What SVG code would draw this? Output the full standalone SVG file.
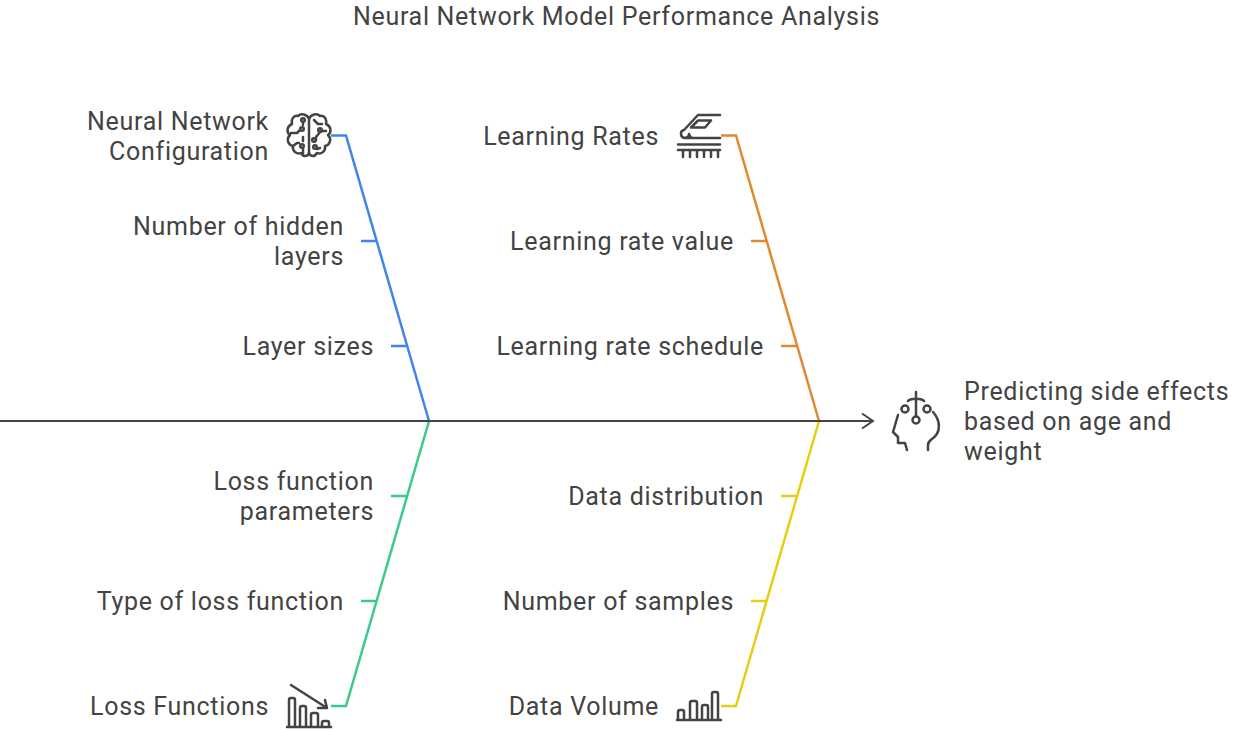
<svg xmlns="http://www.w3.org/2000/svg" width="1233" height="730" viewBox="0 0 1233 730">
<style>
text{font-family:Roboto,"Liberation Sans",sans-serif;font-size:25px;fill:#434343;letter-spacing:.7px}
.e{text-anchor:end}
.c{fill:none;stroke-width:2.500}
.m{fill:none;stroke-width:2}
.i{fill:none;stroke:#434343;stroke-width:2.500;stroke-linecap:round;stroke-linejoin:round}
</style>
<rect width="1233" height="730" fill="#fff"/>
<text id="title" x="616.5" y="25" text-anchor="middle">Neural Network Model Performance Analysis</text>
<g id="connectors">
<path class="c" stroke="#4285e8" d="M331 135.500H346L429 421M361 241H377M391 346H407"/>
<path class="c" stroke="#e08a30" d="M721 135.500H736L819 421M751 241H767M781 346H797"/>
<path class="c" stroke="#3cc98c" d="M331 706H346L429 421M391 496H407M361 601H377"/>
<path class="c" stroke="#e6cf10" d="M721 706H736L819 421M781 496H797M751 601H767"/>
<path class="m" stroke="#434343" d="M0 421H873M862 413.500L873 421L862 428.500"/>
</g>
<g id="node-nn"><text class="e" x="269" y="130">Neural Network</text><text class="e" x="269" y="160">Configuration</text>
<path class="i" d="M309 119C307 114 301 113 298 116C293 115 291 120 292 124C287 126 286 132 290 135C286 139 288 145 293 146C292 151 297 155 301 153C304 158 309 156 309 152ZM309 119C311 114 317 113 320 116C325 115 327 120 326 124C331 126 332 132 328 135C332 139 330 145 325 146C326 151 321 155 317 153C314 158 309 156 309 152ZM309 119V137M309 146V152M303 122V125M314 120L318 124H322M291 133H297L300 130M326 131H321L316 137M316 137V140M303 137V141M293 146L297 143H299M317 149L320 148M303 153V148"/>
<g class="i"><circle cx="303" cy="120" r="1.800"/><circle cx="302" cy="129" r="1.800"/><circle cx="320" cy="130" r="1.800"/><circle cx="314" cy="140" r="1.800"/><circle cx="302" cy="146" r="1.800"/><circle cx="315" cy="147" r="1.800"/></g></g>
<g id="node-lr"><text class="e" x="659" y="145">Learning Rates</text>
<path class="i" d="M720 115H698L684 130M698 120.500H711L705 127.500H691ZM689 134A4 4 0 1 1 684 130M689 134Q690 138 693 138H720M686 138H693M678 144.500H720M678 150H720M683 150V157M690 150V157M697 150V157M704 150V157M711 150V157M718 150V157"/></g>
<g id="node-hidden"><text class="e" x="344" y="235">Number of hidden</text><text class="e" x="344" y="265">layers</text></g>
<g id="node-sizes"><text class="e" x="374" y="355">Layer sizes</text></g>
<g id="node-lrv"><text class="e" x="734" y="250">Learning rate value</text></g>
<g id="node-lrs"><text class="e" x="764" y="355">Learning rate schedule</text></g>
<g id="node-outcome"><text x="964" y="400">Predicting side effects</text><text x="964" y="430">based on age and</text><text x="964" y="460">weight</text>
<path class="i" d="M916 392V416M908 401C910 398 913 399 916 399C919 399 922 398 924 401M898 415L893 432L898 437V443H905L907 450M933 412C941 421 941 433 932 439C929 441 928 442 928 445V450"/>
<g class="i"><circle cx="916" cy="420" r="3.500"/><circle cx="905" cy="409" r="3.500"/><circle cx="927" cy="409" r="3.500"/></g></g>
<g id="node-lfp"><text class="e" x="374" y="490">Loss function</text><text class="e" x="374" y="520">parameters</text></g>
<g id="node-type"><text class="e" x="344" y="610">Type of loss function</text></g>
<g id="node-lf"><text class="e" x="269" y="715">Loss Functions</text>
<path class="i" d="M291 685L327 708M325 700L327 708L318 708M287 727H331M289 727V700Q289 698 291 698H293Q295 698 295 700V727M300 727V708Q300 706 302 706H304Q306 706 306 708V727M311 727V715Q311 713 313 713H316Q318 713 318 715V727M322 727V723Q322 721 324 721H327Q329 721 329 723V727"/></g>
<g id="node-dist"><text class="e" x="764" y="505">Data distribution</text></g>
<g id="node-samples"><text class="e" x="734" y="610">Number of samples</text></g>
<g id="node-dv"><text class="e" x="659" y="715">Data Volume</text>
<path class="i" d="M677 720H721M678 720V712Q678 710 680 710H682Q684 710 684 712V720M690 720V703Q690 701 692 701H695Q697 701 697 703V720M702 720V707Q702 705 704 705H706Q708 705 708 707V720M712 720V694Q712 692 714 692H716Q718 692 718 694V720"/></g>
</svg>
